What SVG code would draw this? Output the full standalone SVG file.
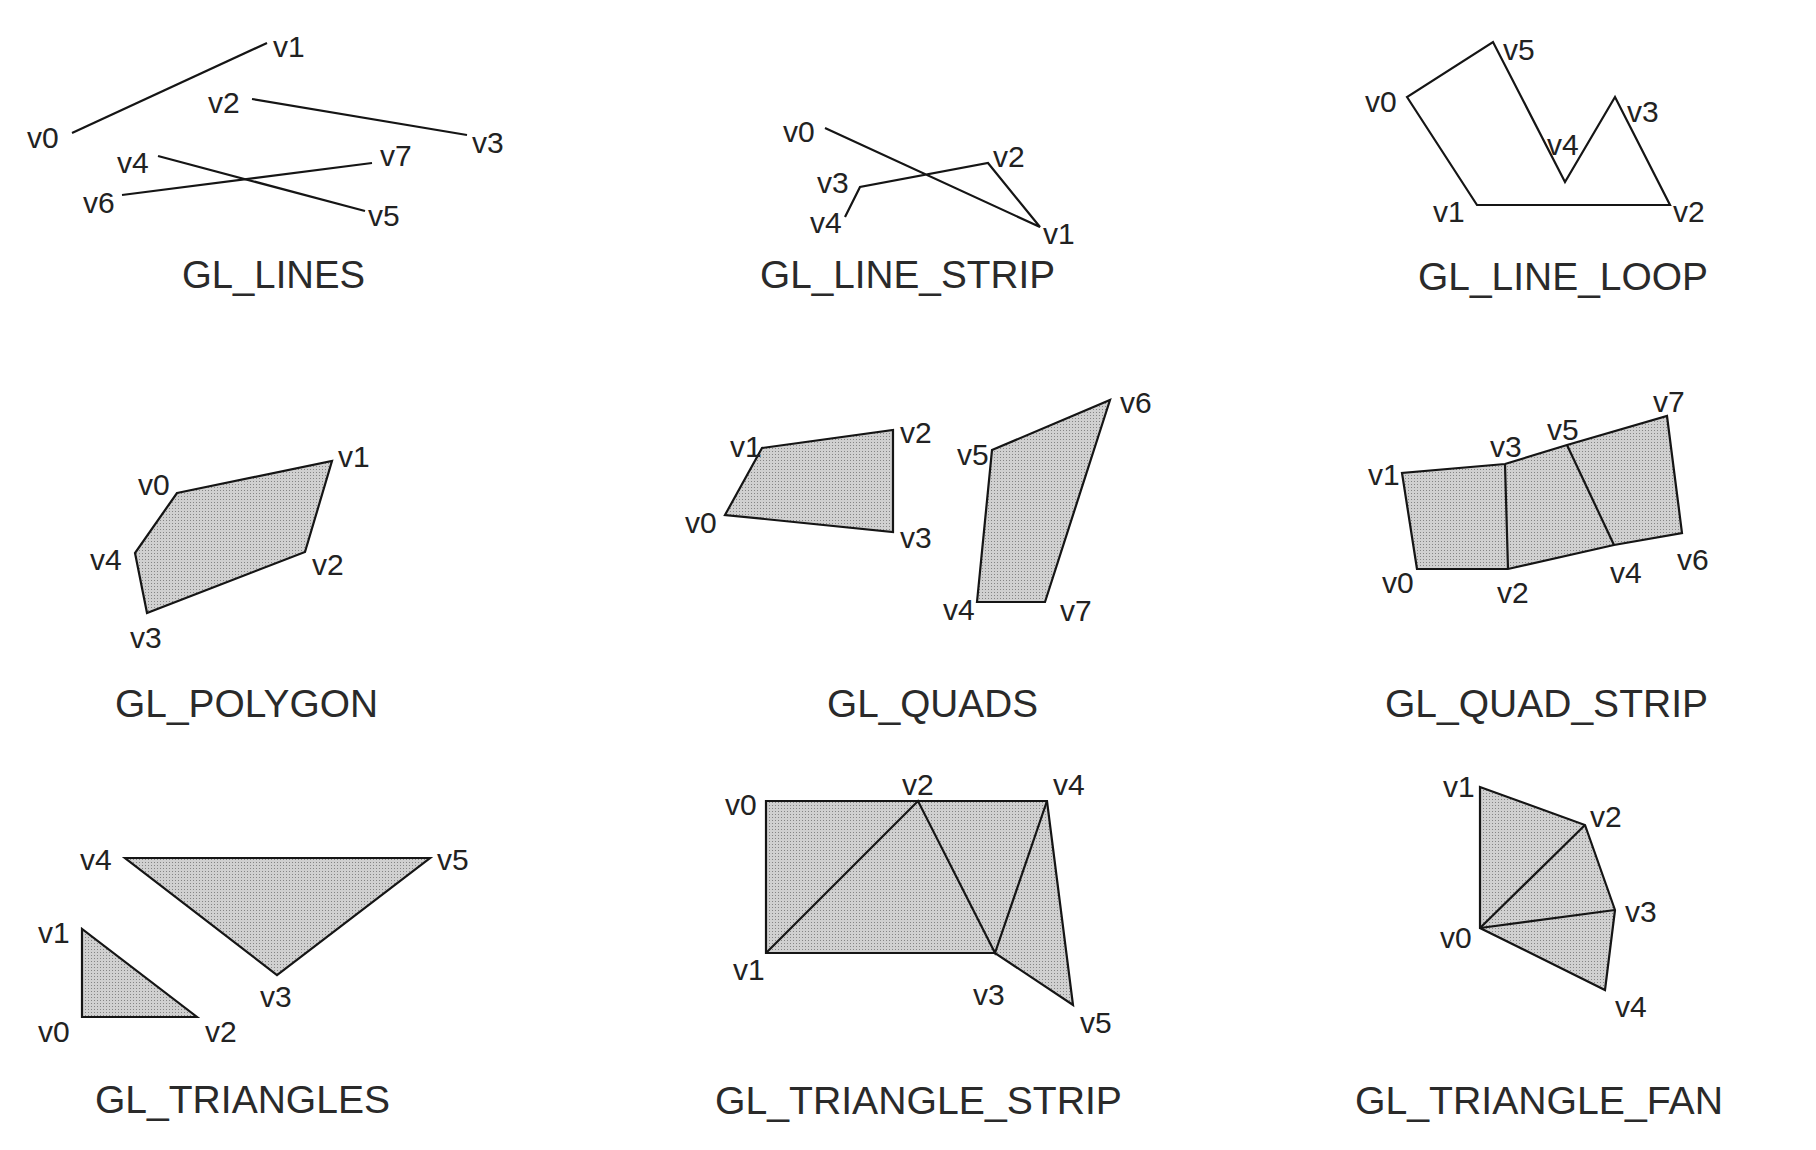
<svg xmlns="http://www.w3.org/2000/svg" width="1816" height="1150" viewBox="0 0 1816 1150">
<defs>
<pattern id="stip" patternUnits="userSpaceOnUse" width="3" height="3">
<rect width="3" height="3" fill="#d0d0d0"/>
<rect x="1" y="1" width="1" height="1" fill="#858585"/>
</pattern>
<style>
.ln{fill:none;stroke:#151515;stroke-width:2.2;stroke-linejoin:miter}
.sh{fill:url(#stip);stroke:#151515;stroke-width:2.2;stroke-linejoin:miter}
.v{font-family:"Liberation Sans",Arial,sans-serif;font-size:30px;fill:#222}
.t{font-family:"Liberation Sans",Arial,sans-serif;font-size:39px;fill:#2a2a2a}
</style>
</defs>
<rect width="1816" height="1150" fill="#ffffff"/>

<g id="gl-lines">
<g class="shapes">
<line class="ln" x1="72" y1="133" x2="267" y2="43"/>
<line class="ln" x1="252" y1="99" x2="467" y2="135"/>
<line class="ln" x1="158" y1="156" x2="365" y2="211"/>
<line class="ln" x1="122" y1="195" x2="372" y2="163"/>
</g>
<text class="v" x="27" y="148">v0</text>
<text class="v" x="273" y="57">v1</text>
<text class="v" x="208" y="113">v2</text>
<text class="v" x="472" y="153">v3</text>
<text class="v" x="117" y="173">v4</text>
<text class="v" x="368" y="226">v5</text>
<text class="v" x="83" y="213">v6</text>
<text class="v" x="380" y="166">v7</text>
<text class="t" x="182" y="288" textLength="183" lengthAdjust="spacingAndGlyphs">GL_LINES</text>
</g>

<g id="gl-line-strip">
<polyline class="ln" points="825,128 1040,227 988,163 860,187 845,217"/>
<text class="v" x="783" y="142">v0</text>
<text class="v" x="1043" y="244">v1</text>
<text class="v" x="993" y="167">v2</text>
<text class="v" x="817" y="193">v3</text>
<text class="v" x="810" y="233">v4</text>
<text class="t" x="760" y="288" textLength="295" lengthAdjust="spacingAndGlyphs">GL_LINE_STRIP</text>
</g>

<g id="gl-line-loop">
<polygon class="ln" points="1407,97 1477,205 1670,205 1615,97 1565,182 1493,42"/>
<text class="v" x="1365" y="112">v0</text>
<text class="v" x="1433" y="222">v1</text>
<text class="v" x="1673" y="222">v2</text>
<text class="v" x="1627" y="122">v3</text>
<text class="v" x="1547" y="155">v4</text>
<text class="v" x="1503" y="60">v5</text>
<text class="t" x="1418" y="290" textLength="290" lengthAdjust="spacingAndGlyphs">GL_LINE_LOOP</text>
</g>

<g id="gl-polygon">
<polygon class="sh" points="177,493 332,461 305,552 147,613 135,553"/>
<text class="v" x="138" y="495">v0</text>
<text class="v" x="338" y="467">v1</text>
<text class="v" x="312" y="575">v2</text>
<text class="v" x="130" y="648">v3</text>
<text class="v" x="90" y="570">v4</text>
<text class="t" x="115" y="717" textLength="263" lengthAdjust="spacingAndGlyphs">GL_POLYGON</text>
</g>

<g id="gl-quads">
<polygon class="sh" points="725,515 762,448 893,430 893,532"/>
<polygon class="sh" points="977,602 992,450 1110,400 1045,602"/>
<text class="v" x="685" y="533">v0</text>
<text class="v" x="730" y="457">v1</text>
<text class="v" x="900" y="443">v2</text>
<text class="v" x="900" y="548">v3</text>
<text class="v" x="943" y="620">v4</text>
<text class="v" x="957" y="465">v5</text>
<text class="v" x="1120" y="413">v6</text>
<text class="v" x="1060" y="621">v7</text>
<text class="t" x="827" y="717" textLength="211" lengthAdjust="spacingAndGlyphs">GL_QUADS</text>
</g>

<g id="gl-quad-strip">
<polygon class="sh" points="1417,569 1402,473 1505,464 1567,445 1667,416 1682,533 1614,545 1508,569"/>
<line class="ln" x1="1508" y1="569" x2="1505" y2="464"/>
<line class="ln" x1="1614" y1="545" x2="1567" y2="445"/>
<text class="v" x="1382" y="593">v0</text>
<text class="v" x="1368" y="485">v1</text>
<text class="v" x="1497" y="603">v2</text>
<text class="v" x="1490" y="457">v3</text>
<text class="v" x="1610" y="583">v4</text>
<text class="v" x="1547" y="440">v5</text>
<text class="v" x="1677" y="570">v6</text>
<text class="v" x="1653" y="412">v7</text>
<text class="t" x="1385" y="717" textLength="323" lengthAdjust="spacingAndGlyphs">GL_QUAD_STRIP</text>
</g>

<g id="gl-triangles">
<polygon class="sh" points="82,1017 82,929 197,1017"/>
<polygon class="sh" points="125,858 430,858 277,975"/>
<text class="v" x="38" y="1042">v0</text>
<text class="v" x="38" y="943">v1</text>
<text class="v" x="205" y="1042">v2</text>
<text class="v" x="260" y="1007">v3</text>
<text class="v" x="80" y="870">v4</text>
<text class="v" x="437" y="870">v5</text>
<text class="t" x="95" y="1113" textLength="295" lengthAdjust="spacingAndGlyphs">GL_TRIANGLES</text>
</g>

<g id="gl-triangle-strip">
<polygon class="sh" points="766,801 1047,801 1073,1005 995,953 766,953"/>
<polyline class="ln" points="766,953 918,801 995,953 1047,801"/>
<text class="v" x="725" y="815">v0</text>
<text class="v" x="733" y="980">v1</text>
<text class="v" x="902" y="795">v2</text>
<text class="v" x="973" y="1005">v3</text>
<text class="v" x="1053" y="795">v4</text>
<text class="v" x="1080" y="1033">v5</text>
<text class="t" x="715" y="1114" textLength="407" lengthAdjust="spacingAndGlyphs">GL_TRIANGLE_STRIP</text>
</g>

<g id="gl-triangle-fan">
<polygon class="sh" points="1480,928 1480,787 1585,825 1615,910 1605,990"/>
<line class="ln" x1="1480" y1="928" x2="1585" y2="825"/>
<line class="ln" x1="1480" y1="928" x2="1615" y2="910"/>
<text class="v" x="1440" y="948">v0</text>
<text class="v" x="1443" y="797">v1</text>
<text class="v" x="1590" y="827">v2</text>
<text class="v" x="1625" y="922">v3</text>
<text class="v" x="1615" y="1017">v4</text>
<text class="t" x="1355" y="1114" textLength="368" lengthAdjust="spacingAndGlyphs">GL_TRIANGLE_FAN</text>
</g>
</svg>
